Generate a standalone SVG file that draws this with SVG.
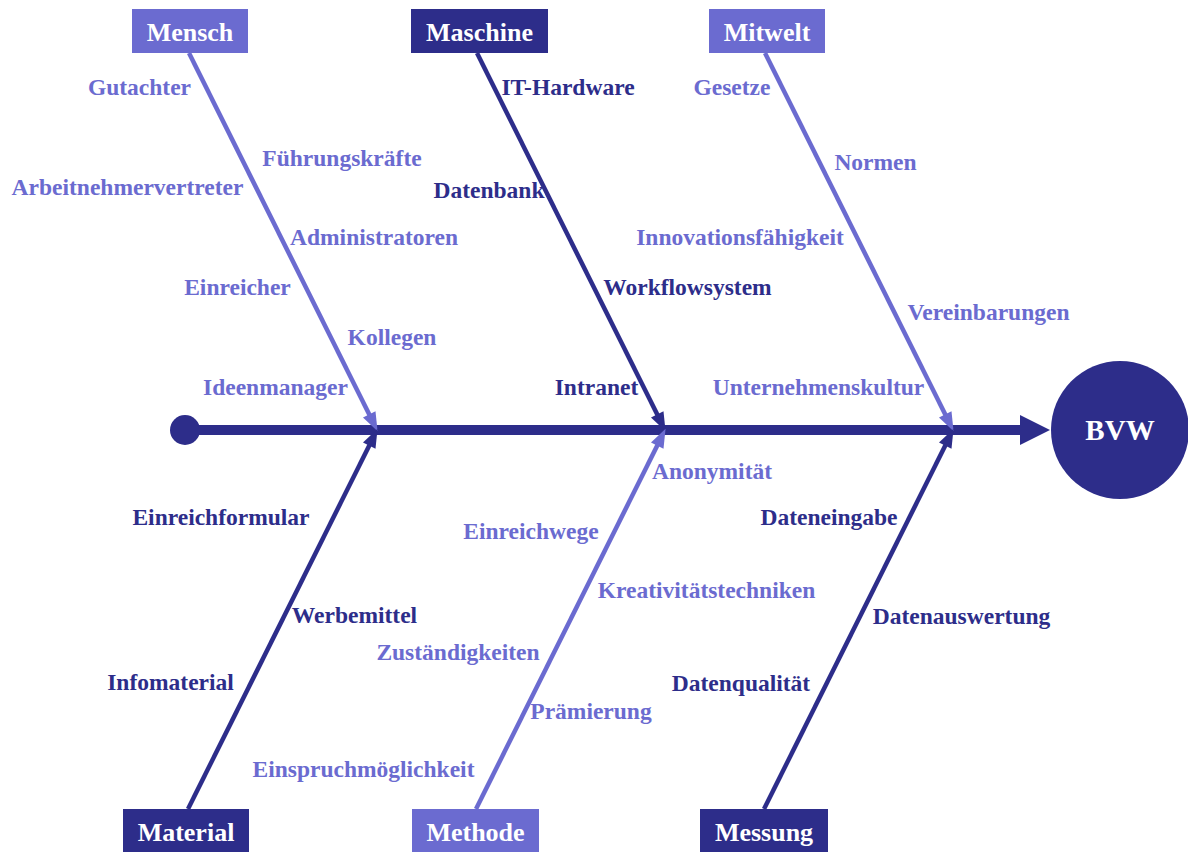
<svg xmlns="http://www.w3.org/2000/svg" width="1188" height="852" viewBox="0 0 1188 852">
  <style>
    .light { fill: #6b6bd0; }
    .dark { fill: #2d2d8a; }
    .box-text { font-family: "Liberation Serif", "Times New Roman", serif; font-weight: bold; font-size: 26px; fill: #ffffff; text-anchor: middle; }
    .lbl { font-family: "Liberation Serif", "Times New Roman", serif; font-weight: bold; font-size: 23.5px; text-anchor: middle; }
    .bone { fill: none; stroke-width: 4.5; }
    .bone-light { stroke: #6b6bd0; }
    .bone-dark { stroke: #2d2d8a; }
  </style>
  <defs>
    <marker id="tipLight" markerUnits="userSpaceOnUse" orient="auto" markerWidth="20" markerHeight="14" refX="8" refY="6" viewBox="0 0 16 12">
      <path d="M0,0 L16,6 L0,12 z" fill="#6b6bd0"/>
    </marker>
    <marker id="tipDark" markerUnits="userSpaceOnUse" orient="auto" markerWidth="20" markerHeight="14" refX="8" refY="6" viewBox="0 0 16 12">
      <path d="M0,0 L16,6 L0,12 z" fill="#2d2d8a"/>
    </marker>
  </defs>

  <rect width="1188" height="852" fill="#ffffff"/>

  <!-- spine and bones -->
  <g id="connectors">
    <circle cx="185" cy="430" r="15" fill="#2d2d8a"/>
    <line x1="185" y1="430" x2="1022" y2="430" stroke="#2d2d8a" stroke-width="10"/>
    <polygon points="1020,415 1050,430 1020,445" fill="#2d2d8a"/>

    <line class="bone bone-light" x1="189" y1="53" x2="373.4" y2="422.8" marker-end="url(#tipLight)"/>
    <line class="bone bone-dark" x1="477" y1="53" x2="661.4" y2="422.8" marker-end="url(#tipDark)"/>
    <line class="bone bone-light" x1="765" y1="53" x2="949.4" y2="422.8" marker-end="url(#tipLight)"/>

    <line class="bone bone-dark" x1="188" y1="809" x2="373.4" y2="437.2" marker-end="url(#tipDark)"/>
    <line class="bone bone-light" x1="476" y1="809" x2="661.4" y2="437.2" marker-end="url(#tipLight)"/>
    <line class="bone bone-dark" x1="764" y1="809" x2="949.4" y2="437.2" marker-end="url(#tipDark)"/>
  </g>

  <!-- effect -->
  <g id="bvw">
    <circle cx="1120" cy="430" r="69" fill="#2d2d8a"/>
    <text class="box-text" x="1120" y="440" style="font-size:29px">BVW</text>
  </g>

  <!-- category: Mensch -->
  <g id="mensch">
    <rect x="132" y="9" width="116" height="44" class="light"/>
    <text class="box-text" x="190" y="41">Mensch</text>
    <g class="light">
      <text class="lbl" x="139.5" y="95">Gutachter</text>
      <text class="lbl" x="342" y="166">Führungskräfte</text>
      <text class="lbl" x="127.5" y="195">Arbeitnehmervertreter</text>
      <text class="lbl" x="374" y="245">Administratoren</text>
      <text class="lbl" x="237.5" y="295">Einreicher</text>
      <text class="lbl" x="392" y="345">Kollegen</text>
      <text class="lbl" x="275.5" y="395">Ideenmanager</text>
    </g>
  </g>

  <!-- category: Maschine -->
  <g id="maschine">
    <rect x="411" y="9" width="137" height="44" class="dark"/>
    <text class="box-text" x="479.5" y="41">Maschine</text>
    <g class="dark">
      <text class="lbl" x="568" y="95">IT-Hardware</text>
      <text class="lbl" x="489" y="198">Datenbank</text>
      <text class="lbl" x="687.5" y="295">Workflowsystem</text>
      <text class="lbl" x="596.5" y="395">Intranet</text>
    </g>
  </g>

  <!-- category: Mitwelt -->
  <g id="mitwelt">
    <rect x="709" y="9" width="116" height="44" class="light"/>
    <text class="box-text" x="767" y="41">Mitwelt</text>
    <g class="light">
      <text class="lbl" x="732" y="95">Gesetze</text>
      <text class="lbl" x="875.5" y="170">Normen</text>
      <text class="lbl" x="740" y="245">Innovationsfähigkeit</text>
      <text class="lbl" x="988.5" y="320">Vereinbarungen</text>
      <text class="lbl" x="818.5" y="395">Unternehmenskultur</text>
    </g>
  </g>

  <!-- category: Material -->
  <g id="material">
    <rect x="123" y="809" width="126" height="44" class="dark"/>
    <text class="box-text" x="186" y="841">Material</text>
    <g class="dark">
      <text class="lbl" x="221" y="525">Einreichformular</text>
      <text class="lbl" x="354.5" y="623">Werbemittel</text>
      <text class="lbl" x="170.5" y="690">Infomaterial</text>
    </g>
    <text class="lbl light" x="363.5" y="777">Einspruchmöglichkeit</text>
  </g>

  <!-- category: Methode -->
  <g id="methode">
    <rect x="412" y="809" width="127" height="44" class="light"/>
    <text class="box-text" x="475.5" y="841">Methode</text>
    <g class="light">
      <text class="lbl" x="712" y="479">Anonymität</text>
      <text class="lbl" x="531" y="539">Einreichwege</text>
      <text class="lbl" x="706.5" y="598">Kreativitätstechniken</text>
      <text class="lbl" x="458" y="660">Zuständigkeiten</text>
      <text class="lbl" x="591" y="719">Prämierung</text>
    </g>
  </g>

  <!-- category: Messung -->
  <g id="messung">
    <rect x="700" y="809" width="128" height="44" class="dark"/>
    <text class="box-text" x="764" y="841">Messung</text>
    <g class="dark">
      <text class="lbl" x="829" y="525">Dateneingabe</text>
      <text class="lbl" x="961.5" y="624">Datenauswertung</text>
      <text class="lbl" x="741" y="691">Datenqualität</text>
    </g>
  </g>
</svg>
